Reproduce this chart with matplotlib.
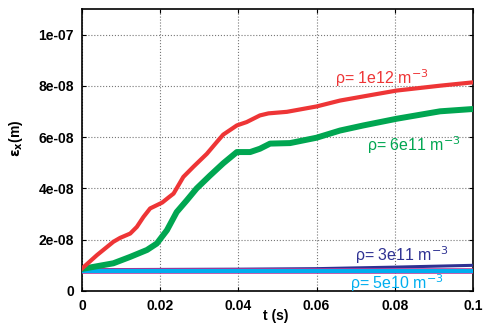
import matplotlib.pyplot as plt

plt.rcParams["font.family"] = ["Liberation Sans", "DejaVu Sans"]

# rho = 1e12 m^-3
t_red = [0.0, 0.0038, 0.008, 0.0097, 0.0123, 0.014, 0.0157, 0.0174, 0.0205, 0.0223,
         0.0234, 0.0259, 0.0285, 0.0319, 0.0344, 0.0361, 0.0396, 0.0421, 0.0455, 0.0477,
         0.0524, 0.060, 0.066, 0.0745, 0.0805, 0.0916, 0.1]
eps_red = [8.8e-9, 1.4e-8, 1.92e-8, 2.07e-8, 2.24e-8, 2.5e-8, 2.89e-8, 3.22e-8, 3.45e-8, 3.67e-8,
           3.8e-8, 4.45e-8, 4.85e-8, 5.35e-8, 5.8e-8, 6.1e-8, 6.46e-8, 6.59e-8, 6.85e-8, 6.93e-8,
           6.99e-8, 7.2e-8, 7.43e-8, 7.66e-8, 7.82e-8, 8.01e-8, 8.14e-8]

# rho = 6e11 m^-3
t_green = [0.0, 0.008, 0.0123, 0.0166, 0.0191, 0.0217, 0.0242, 0.0268, 0.0293, 0.0327,
           0.0361, 0.0396, 0.043, 0.0455, 0.0481, 0.0532, 0.060, 0.066, 0.072, 0.0805,
           0.0916, 0.1]
eps_green = [8.6e-9, 1.08e-8, 1.33e-8, 1.6e-8, 1.85e-8, 2.37e-8, 3.08e-8, 3.54e-8, 4.0e-8, 4.5e-8,
             4.98e-8, 5.42e-8, 5.42e-8, 5.55e-8, 5.75e-8, 5.77e-8, 5.98e-8, 6.26e-8, 6.46e-8, 6.72e-8,
             7.01e-8, 7.1e-8]

# rho = 3e11 m^-3
t_dblue = [0.0, 0.02, 0.04, 0.06, 0.08, 0.1]
eps_dblue = [8.3e-9, 8.4e-9, 8.5e-9, 8.7e-9, 9.3e-9, 1.0e-8]

# rho = 5e10 m^-3
t_cyan = [0.0, 0.05, 0.1]
eps_cyan = [7.8e-9, 7.8e-9, 7.8e-9]

fig = plt.figure(figsize=(4.89, 3.24), dpi=100)
ax = fig.add_axes([0.168, 0.102, 0.799, 0.870])

ax.plot(t_dblue, eps_dblue, "-", lw=2.2, color="#2e3192", zorder=3)
ax.plot(t_cyan, eps_cyan, "-", lw=4.0, color="#e0218a", zorder=4)
ax.plot(t_cyan, eps_cyan, "-", lw=3.1, color="#00aeef", zorder=5)
ax.plot(t_green, eps_green, "-", lw=4.3, color="#00a651", zorder=6)
ax.plot(t_red, eps_red, "-", lw=3.0, color="#ee3536", zorder=7)

ax.text(0.0647, 8.29e-8, r"ρ= 1e12 m$^{-3}$", color="#ee3536", fontsize=11.5, va="center")
ax.text(0.0729, 5.68e-8, r"ρ= 6e11 m$^{-3}$", color="#00a651", fontsize=11.5, va="center")
ax.text(0.0698, 1.4e-8, r"ρ= 3e11 m$^{-3}$", color="#2e3192", fontsize=11.5, va="center")
ax.text(0.0686, 3.1e-9, r"ρ= 5e10 m$^{-3}$", color="#00aeef", fontsize=11.5, va="center")

ax.set_xlim(0, 0.1)
ax.set_ylim(0, 1.1e-7)
ax.set_xticks([0, 0.02, 0.04, 0.06, 0.08, 0.1])
ax.set_xticklabels(["0", "0.02", "0.04", "0.06", "0.08", "0.1"])
ax.set_yticks([0, 2e-8, 4e-8, 6e-8, 8e-8, 1e-7])
ax.set_yticklabels(["0", "2e-08", "4e-08", "6e-08", "8e-08", "1e-07"])
for lab in ax.get_xticklabels() + ax.get_yticklabels():
    lab.set_fontweight("bold")
ax.tick_params(direction="in", top=True, right=True, labelsize=10, length=3, pad=6)
ax.grid(True, linestyle=":", color="#777777", lw=0.8)

ax.set_xlabel("t (s)", fontsize=10, fontweight="bold")
ax.xaxis.set_label_coords(0.495, -0.065)
ax.set_ylabel(r"$\mathbf{\epsilon_x}$(m)", fontsize=10, fontweight="bold")
ax.yaxis.set_label_coords(-0.145, 0.54)

for s in ax.spines.values():
    s.set_linewidth(1.2)

fig.savefig("out.png", dpi=100)
